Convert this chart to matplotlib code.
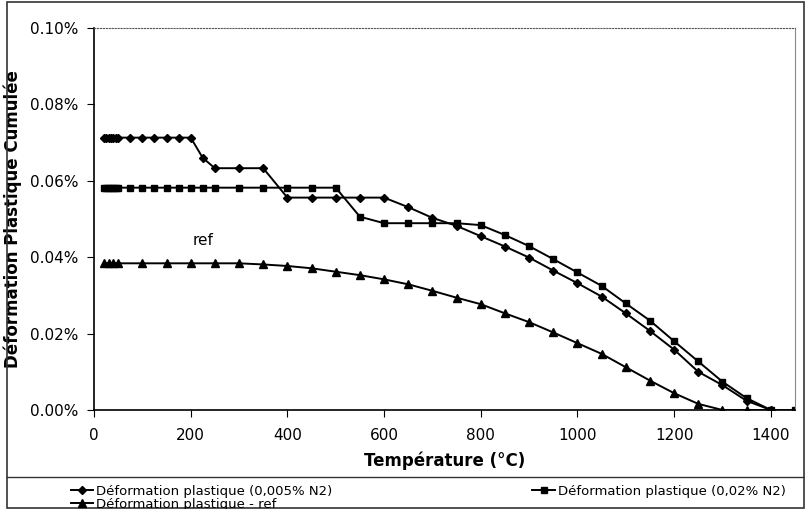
import matplotlib.pyplot as plt
from matplotlib.ticker import FuncFormatter
from matplotlib.patches import Rectangle
from matplotlib.lines import Line2D

# temperatures (°C) and cumulated plastic strain (%)
temp_a = [20, 25, 30, 35, 40, 45, 50, 75, 100, 125, 150, 175, 200, 225, 250, 300, 350,
          400, 450, 500, 550, 600, 650, 700, 750, 800, 850, 900, 950, 1000, 1050,
          1100, 1150, 1200, 1250, 1300, 1350, 1400]
defo_a = [0.0713] * 13 + [0.0660, 0.0633, 0.0633, 0.0633,
          0.0556, 0.0556, 0.0556, 0.0556, 0.0556, 0.0531, 0.0503, 0.0482, 0.0455,
          0.0428, 0.0399, 0.0365, 0.0332, 0.0297, 0.0253, 0.0207, 0.0158, 0.0100,
          0.0065, 0.0024, 0.0]

temp_b = temp_a + [1450]
defo_b = [0.0582] * 20 + [0.0506, 0.0489, 0.0489, 0.0489, 0.0489, 0.0484, 0.0458,
          0.0429, 0.0395, 0.0360, 0.0325, 0.0279, 0.0234, 0.0180, 0.0127, 0.0074,
          0.0031, 0.0, 0.0]

temp_ref = [20, 30, 40, 50, 100, 150, 200, 250, 300, 350, 400, 450, 500, 550, 600,
            650, 700, 750, 800, 850, 900, 950, 1000, 1050, 1100, 1150, 1200, 1250,
            1300, 1350, 1400]
defo_ref = [0.0384] * 9 + [0.0381, 0.0377, 0.0371, 0.0362, 0.0353, 0.0342, 0.0329,
            0.0312, 0.0294, 0.0277, 0.0253, 0.0230, 0.0203, 0.0175, 0.0147, 0.0112,
            0.0077, 0.0044, 0.0016, 0.0, 0.0, 0.0]

labels = ['Déformation plastique (0,005% N2)', 'Déformation plastique (0,02% N2)',
          'Déformation plastique - ref']

fig = plt.figure(figsize=(8.05, 5.09), dpi=100)
ax = fig.add_axes([94/805, 1-410/509, 701/805, 382/509])

l1, = ax.plot(temp_a, defo_a, 'k-', marker='D', ms=4.3, lw=1.4)
l2, = ax.plot(temp_b, defo_b, 'k-', marker='s', ms=5, lw=1.4)
l3, = ax.plot(temp_ref, defo_ref, 'k-', marker='^', ms=5.5, lw=1.4)

ax.text(205, 0.0432, 'ref', fontsize=11)

ax.set_xlim(0, 1450)
ax.set_ylim(0, 0.1)
ax.set_xticks(range(0, 1401, 200))
ax.set_yticks([0, 0.02, 0.04, 0.06, 0.08, 0.10])
ax.yaxis.set_major_formatter(FuncFormatter(lambda v, p: '%.2f%%' % v))
ax.tick_params(labelsize=11, length=5, direction='out', pad=8)
ax.tick_params(axis='y', pad=6)

ax.spines['top'].set_linestyle(':')
ax.spines['top'].set_color('#555555')
ax.spines['right'].set_color('#888888')
ax.spines['right'].set_linewidth(0.8)
ax.spines['left'].set_linewidth(1.2)
ax.spines['bottom'].set_linewidth(1.2)

ax.set_xlabel('Température (°C)', fontsize=12, fontweight='bold', labelpad=6)
ax.set_ylabel('Déformation Plastique Cumulée', fontsize=12, fontweight='bold')
ax.yaxis.set_label_coords(-0.103, 0.5)

# outer frame and legend separator
fig.patches.append(Rectangle((7/805, 1/509), 797/805, 506/509, transform=fig.transFigure,
                             fill=False, ec='#333333', lw=1.2))
fig.lines.append(Line2D([7/805, 1], [1-477/509, 1-477/509], transform=fig.transFigure,
                        color='#333333', lw=1.0))

# row-wise order: matplotlib fills columns first
fig.legend([l1, l3, l2], [labels[0], labels[2], labels[1]], ncol=2, loc='upper left',
           bbox_to_anchor=(64/805, 1-478/509), frameon=False, fontsize=9.5,
           handlelength=1.7, handletextpad=0.2, columnspacing=15.2,
           labelspacing=0.0, borderpad=0.0)

fig.savefig('out.png', dpi=100)
